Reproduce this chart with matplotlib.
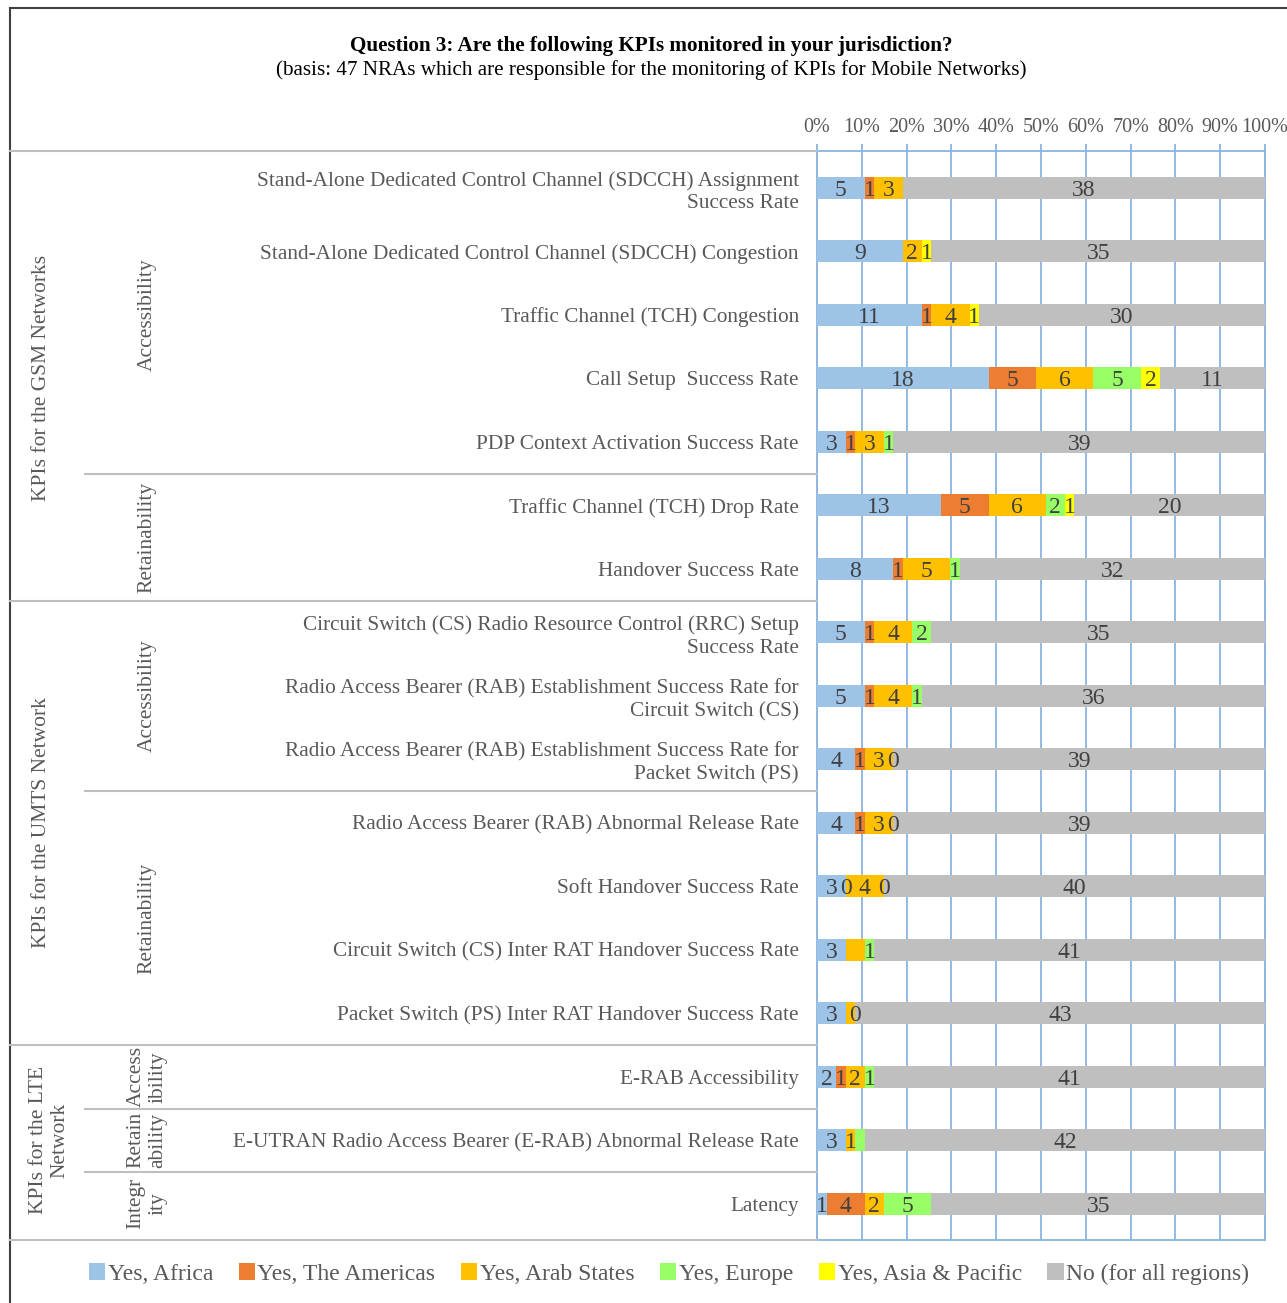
import numpy as np
import matplotlib
matplotlib.use("Agg")
import matplotlib.pyplot as plt
from matplotlib.patches import Patch, Rectangle
from matplotlib.lines import Line2D
import matplotlib.transforms as mtransforms
from matplotlib.ticker import PercentFormatter

plt.rcParams['font.family'] = ['Liberation Serif', 'DejaVu Serif']

nan = np.nan

categories = [
    "Stand-Alone Dedicated Control Channel (SDCCH) Assignment\nSuccess Rate",
    "Stand-Alone Dedicated Control Channel (SDCCH) Congestion",
    "Traffic Channel (TCH) Congestion",
    "Call Setup  Success Rate",
    "PDP Context Activation Success Rate",
    "Traffic Channel (TCH) Drop Rate",
    "Handover Success Rate",
    "Circuit Switch (CS) Radio Resource Control (RRC) Setup\nSuccess Rate",
    "Radio Access Bearer (RAB) Establishment Success Rate for\nCircuit Switch (CS)",
    "Radio Access Bearer (RAB) Establishment Success Rate for\nPacket Switch (PS)",
    "Radio Access Bearer (RAB) Abnormal Release Rate",
    "Soft Handover Success Rate",
    "Circuit Switch (CS) Inter RAT Handover Success Rate",
    "Packet Switch (PS) Inter RAT Handover Success Rate",
    "E-RAB Accessibility",
    "E-UTRAN Radio Access Bearer (E-RAB) Abnormal Release Rate",
    "Latency",
]

series_names = ["Yes, Africa", "Yes, The Americas", "Yes, Arab States",
                "Yes, Europe", "Yes, Asia & Pacific", "No (for all regions)"]

africa   = [5, 9, 11, 18, 3, 13, 8, 5, 5, 4, 4, 3, 3, 3, 2, 3, 1]
americas = [1, nan, 1, 5, 1, 5, 1, 1, 1, 1, 1, 0, nan, nan, 1, nan, 4]
arab     = [3, 2, 4, 6, 3, 6, 5, 4, 4, 3, 3, 4, 2, 1, 2, 1, 2]
europe   = [nan, nan, nan, 5, 1, 2, 1, 2, 1, 0, 0, 0, 1, 0, 1, 1, 5]
asia     = [nan, 1, 1, 2, nan, 1, nan, nan, nan, nan, nan, nan, nan, nan, nan, nan, nan]
no_all   = [38, 35, 30, 11, 39, 20, 32, 35, 36, 39, 39, 40, 41, 43, 41, 42, 35]

# data labels not shown in the original chart (row, series)
hidden_labels = {(12, 2), (13, 2), (15, 3)}

# (label, first row, last row)
networks = [("KPIs for the GSM Networks", 0, 6),
            ("KPIs for the UMTS Network", 7, 13),
            ("KPIs for the LTE\nNetwork", 14, 16)]
subgroups = [("Accessibility", 0, 4), ("Retainability", 5, 6),
             ("Accessibility", 7, 9), ("Retainability", 10, 13),
             ("Access\nibility", 14, 14), ("Retain\nability", 15, 15),
             ("Integr\nity", 16, 16)]

colors = ["#9DC3E6", "#ED7D31", "#FFC000", "#99FF66", "#FFFF00", "#BFBFBF"]
blue = "#8AB4E0"
grey_text = "#595959"
line_grey = "#BFBFBF"

W, H = 1287, 1303
fig = plt.figure(figsize=(W / 100, H / 100), dpi=100)
ax = fig.add_axes([817 / W, 1 - 1240 / H, (1265 - 817) / W, (1240 - 151) / H])

data = np.array([africa, americas, arab, europe, asia, no_all], dtype=float)
vals = np.nan_to_num(data)
totals = vals.sum(axis=0)
y = np.arange(len(categories))
left = np.zeros(len(categories))
for s in range(len(series_names)):
    w = vals[s] / totals
    ax.barh(y, w, left=left, height=0.35, color=colors[s], label=series_names[s], zorder=3)
    for i in range(len(categories)):
        if np.isnan(data[s, i]) or (i, s) in hidden_labels:
            continue
        ax.text(left[i] + w[i] / 2, y[i], f"{int(data[s, i])}", ha="center",
                va="center_baseline", fontsize=17, color="#404040", zorder=4)
    left += w

ax.set_xlim(0, 1)
ax.set_ylim(16.57, -0.58)
ax.xaxis.tick_top()
ax.set_xticks(np.linspace(0, 1, 11))
ax.xaxis.set_major_formatter(PercentFormatter(1.0, decimals=0))
ax.tick_params(axis="x", colors=blue, labelcolor=grey_text, labelsize=14.5,
               length=5, width=1.3, pad=5)
ax.grid(axis="x", color=blue, linewidth=1.3, zorder=0)
ax.set_yticks(y)
ax.set_yticklabels(categories, fontsize=15.3, color=grey_text, linespacing=1.25)
ax.tick_params(axis="y", length=0, pad=13)
for sp in ax.spines.values():
    sp.set_color(blue)
    sp.set_linewidth(1.3)

# table lines on the left
tr = mtransforms.blended_transform_factory(fig.transFigure, ax.transData)
axis_x = 817 / W
for yy in (-0.58, 6.5, 13.5, 16.57):
    fig.add_artist(Line2D([10 / W, axis_x], [yy, yy], transform=tr, color=line_grey, lw=1.5))
for yy in (4.5, 9.5, 14.5, 15.5):
    fig.add_artist(Line2D([85 / W, axis_x], [yy, yy], transform=tr, color=line_grey, lw=1.5))

for name, a, b in networks:
    fig.text(42 / W if "\n" not in name else 49 / W, (a + b) / 2, name, transform=tr,
             rotation=90, ha="center", va="center", fontsize=15.5, color=grey_text,
             multialignment="center")
for name, a, b in subgroups:
    fig.text(147 / W, (a + b) / 2, name, transform=tr, rotation=90, ha="center",
             va="center", fontsize=15.5, color=grey_text, multialignment="center")

# titles
fig.text(651 / W, 1 - 46 / H, "Question 3: Are the following KPIs monitored in your jurisdiction?",
         ha="center", va="center", fontsize=15.2, fontweight="bold", color="black")
fig.text(651 / W, 1 - 70 / H,
         "(basis: 47 NRAs which are responsible for the monitoring of KPIs for Mobile Networks)",
         ha="center", va="center", fontsize=15.2, color="black")

# legend
handles = [Patch(facecolor=c, edgecolor="none") for c in colors]
leg = fig.legend(handles, series_names, loc="center", bbox_to_anchor=(669 / W, 1 - 1274 / H),
                 ncol=6, frameon=False, fontsize=17, handlelength=0.7, handleheight=0.7,
                 handletextpad=0.1, columnspacing=1.08, labelcolor=grey_text)

# outer frame
fig.add_artist(Rectangle((10 / W, -0.05), 1.2, 1 - 8 / H + 0.05, transform=fig.transFigure,
                         fill=False, edgecolor="#404040", lw=1.5))

fig.savefig("out.png", dpi=100)
